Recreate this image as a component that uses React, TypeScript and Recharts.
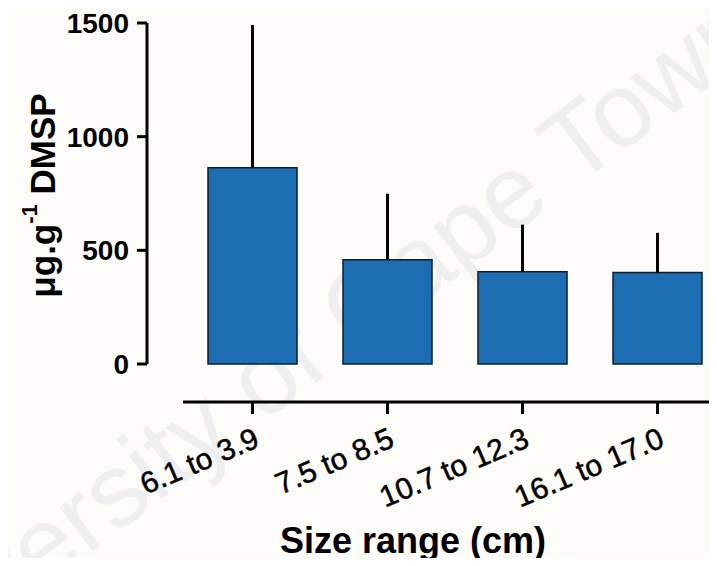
import React from 'react';
import { BarChart, Bar, XAxis, YAxis, ErrorBar } from 'recharts';

const categories = ['6.1 to 3.9', '7.5 to 8.5', '10.7 to 12.3', '16.1 to 17.0'];
const means = [863, 459, 406, 402];
const sdUpper = [628, 290, 207, 175];
const yTicks = [0, 500, 1000, 1500];

const data = categories.map((name, i) => ({ name, mean: means[i], err: [0, sdUpper[i]] }));

const FONT = '"Liberation Sans", Arial, Helvetica, sans-serif';

const XTick = (props: any) => {
  const { x, y, payload } = props;
  return (
    <text
      x={x}
      y={y}
      dy="0.72em"
      textAnchor="end"
      transform={`rotate(-23 ${x} ${y})`}
      fontSize={30}
      fontFamily={FONT}
      fill="#000"
      stroke="#000"
      strokeWidth={0.5}
    >
      {payload.value}
    </text>
  );
};

const YTitle = (props: any) => {
  const vb = props.viewBox || {};
  const cx = 42;
  const cy = (vb.y ?? 0) + (vb.height ?? 0) / 2 + 2;
  return (
    <text
      x={cx}
      y={cy}
      textAnchor="middle"
      dominantBaseline="central"
      transform={`rotate(-90 ${cx} ${cy})`}
      fontSize={35}
      fontWeight={700}
      fontFamily={FONT}
      fill="#000"
    >
      μg.g
      <tspan dy={-13} fontSize={22}>-1</tspan>
      <tspan dy={13}> DMSP</tspan>
    </text>
  );
};

const XTitle = (props: any) => {
  const vb = props.viewBox || {};
  const x = (vb.x ?? 0) + 230;
  const y = (vb.y ?? 0) + 151;
  return (
    <text x={x} y={y} textAnchor="middle" fontSize={36} fontWeight={700} fontFamily={FONT} fill="#000">
      Size range (cm)
    </text>
  );
};

const Watermark = () => (
  <svg width={717} height={566} style={{ position: 'absolute', left: 0, top: 0 }}>
    <text
      x={300}
      y={350}
      textAnchor="middle"
      dominantBaseline="central"
      transform="rotate(-37 300 350)"
      fontSize={104}
      fontFamily={FONT}
      fill="#efefef"
    >
      University of Cape Town
    </text>
  </svg>
);

export default function App() {
  return (
    <div style={{ margin: -8, width: 717, height: 566, overflow: 'hidden', position: 'relative', background: '#fdfcf9' }}>
      <Watermark />
      <div style={{ position: 'absolute', left: 0, top: 0 }}>
        <BarChart width={730} height={566} data={data} margin={{ top: 23, right: 5, bottom: 0, left: 0 }} barSize={89}>
          <XAxis
            xAxisId={0}
            dataKey="name"
            height={38}
            axisLine={false}
            tickLine={false}
            tick={false}
            padding={{ left: 2, right: 0 }}
          />
          <XAxis
            xAxisId="lab"
            dataKey="name"
            height={164}
            padding={{ left: 2, right: 0 }}
            axisLine={{ stroke: '#000', strokeWidth: 3 }}
            tickLine={{ stroke: '#000', strokeWidth: 3 }}
            tickSize={12}
            tickMargin={12}
            tick={<XTick />}
            interval={0}
            label={<XTitle />}
          />
          <YAxis yAxisId={0} domain={[0, 1500]} width={36} axisLine={false} tickLine={false} tick={false} />
          <YAxis
            yAxisId="vis"
            type="number"
            domain={[0, 1500]}
            ticks={yTicks}
            width={147}
            axisLine={{ stroke: '#000', strokeWidth: 3 }}
            tickLine={{ stroke: '#000', strokeWidth: 3 }}
            tickSize={10}
            tickMargin={8}
            tick={{ fontSize: 28, fontWeight: 700, fill: '#000', fontFamily: FONT }}
            label={<YTitle />}
          />
          <Bar dataKey="mean" xAxisId={0} yAxisId="vis" fill="#1d6db3" stroke="#0a1e33" strokeWidth={1.5} isAnimationActive={false}>
            <ErrorBar dataKey="err" direction="y" width={0} stroke="#000" strokeWidth={3} isAnimationActive={false} />
          </Bar>
        </BarChart>
      </div>
    </div>
  );
}
